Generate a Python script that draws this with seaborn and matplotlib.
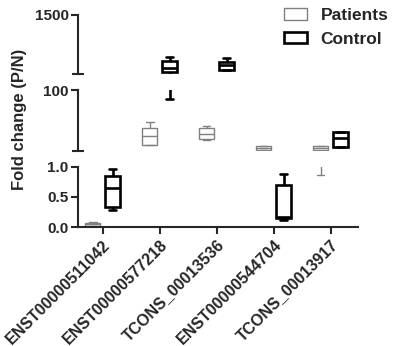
import pandas as pd
import numpy as np
import matplotlib.pyplot as plt
import seaborn as sns
from matplotlib.patches import Patch

genes = ['ENST00000511042', 'ENST00000577218', 'TCONS_00013536',
         'ENST00000544704', 'TCONS_00013917']
groups = ['Patients', 'Control']

# five values per box: min, q1, median, q3, max
patients = [
    [0.02, 0.02, 0.05, 0.07, 0.09],
    [10.0, 10.3, 25.5, 37.5, 48.0],
    [19.0, 19.6, 28.0, 37.5, 41.0],
    [2.0, 2.1, 5.4, 8.7, 9.0],
    [0.86, 1.5, 5.0, 8.5, 9.2],
]
control = [
    [0.28, 0.33, 0.65, 0.85, 0.97],
    [86.0, 161.0, 256.0, 421.0, 508.0],
    [190.0, 194.0, 320.0, 397.0, 478.0],
    [0.12, 0.148, 0.165, 0.70, 0.875],
    [7.0, 7.5, 21.0, 31.0, 32.0],
]

# broken y axis segments (top, middle, bottom)
segments = [(100, 1500), (1, 100), (0, 1.0)]

rows = []
for g, p, c in zip(genes, patients, control):
    rows += [(g, 'Patients', v) for v in p]
    rows += [(g, 'Control', v) for v in c]
df = pd.DataFrame(rows, columns=['gene', 'group', 'value'])
rng = df.groupby(['gene', 'group'])['value'].agg(['min', 'max'])
df = df.join(rng, on=['gene', 'group'])

sns.set_style('ticks')
plt.rcParams['font.family'] = ['Liberation Sans', 'DejaVu Sans']
plt.rcParams['font.weight'] = 'bold'
plt.rcParams['axes.linewidth'] = 1.5

W, H = 396, 346
fig = plt.figure(figsize=(W / 100, H / 100), dpi=100)

def fax(top_px, bot_px):
    return fig.add_axes([77.7 / W, 1 - bot_px / H, (358 - 77.7) / W, (bot_px - top_px) / H])

ax_top = fax(15, 74.3)
ax_mid = fax(90, 150.7)
ax_bot = fax(166.7, 227.3)
axes = [ax_top, ax_mid, ax_bot]

styles = {'Patients': ('#808080', 1.0), 'Control': ('black', 1.9)}

for ax, (lo, hi) in zip(axes, segments):
    # only boxes that reach into this segment
    seg = df[(df['max'] >= lo) & (df['min'] <= hi)]
    for grp in groups:
        sub = seg[seg['group'] == grp]
        if sub.empty:
            continue
        col, lw = styles[grp]
        sns.boxplot(data=sub, x='gene', y='value', hue='group',
                    order=genes, hue_order=groups, dodge=True,
                    palette={'Patients': 'white', 'Control': 'white'},
                    linecolor=col, linewidth=lw, width=0.7, gap=0.25,
                    whis=(0, 100), showfliers=False, legend=False, ax=ax)
    ax.set_ylim(lo, hi)
    ax.set_xlim(-0.44, 4.48)
    ax.set_xlabel('')
    ax.set_ylabel('')
    sns.despine(ax=ax)
    ax.tick_params(axis='y', length=5, width=1.5, pad=1.5, labelsize=11)
    ax.tick_params(axis='y', which='minor', direction='inout', length=9, width=1.5)

ax_top.set_yticks([1500])
ax_top.set_yticks([100], minor=True)
ax_mid.set_yticks([100])
ax_mid.set_yticks([1], minor=True)
ax_bot.set_yticks([0.0, 0.5, 1.0])
ax_bot.set_yticklabels(['0.0', '0.5', '1.0'])

for ax in (ax_top, ax_mid):
    ax.spines['bottom'].set_visible(False)
    ax.tick_params(axis='x', bottom=False, labelbottom=False)
    ax.set_yticklabels([str(int(t)) for t in ax.get_yticks()])

ax_bot.tick_params(axis='x', length=5, width=1.5, labelsize=11.5, pad=2)
plt.setp(ax_bot.get_xticklabels(), rotation=45, ha='right', rotation_mode='anchor')

fig.text(20 / W, 1 - 119 / H, 'Fold change (P/N)', rotation=90, ha='center', va='center',
         fontsize=12, fontweight='bold')

handles = [Patch(facecolor='white', edgecolor='#808080', linewidth=1.0, label='Patients'),
           Patch(facecolor='white', edgecolor='black', linewidth=1.9, label='Control')]
fig.legend(handles=handles, loc='upper left', bbox_to_anchor=(284 / W, 1 - 8 / H),
           frameon=False, borderpad=0, borderaxespad=0, handlelength=1.35,
           handleheight=0.62, handletextpad=0.75, labelspacing=0.5,
           prop={'size': 12.5, 'weight': 'bold'})

fig.savefig('out.png', dpi=100)
